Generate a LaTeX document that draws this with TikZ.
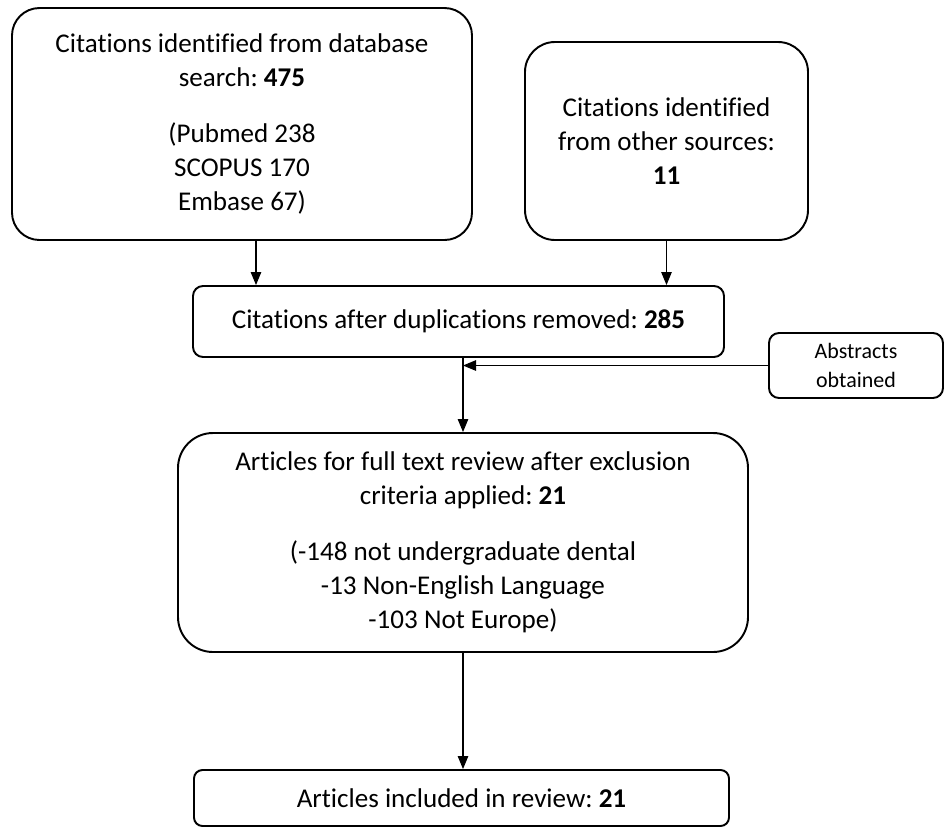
\documentclass[tikz,border=0pt]{standalone}
\usepackage{fontspec}
\setmainfont{Carlito}[Ligatures=NoCommon]
\usetikzlibrary{arrows.meta}
\frenchspacing

\begin{document}
\begin{tikzpicture}
\tikzset{%
  >={Triangle[length=2.6mm,width=2.1mm]}, % option for nice arrows
  box/.style={draw,line width=1.1pt,align=center,inner sep=0pt,
    font=\fontsize{15.4}{19.5}\selectfont},%
  small box/.style={box,font=\fontsize{12.5}{16}\selectfont},%
  link/.style={->,line width=0.6pt}%
}
%% some definitions

\def\gap{12pt} % space before the list of numbers

%% page size

\useasboundingbox (0,0) rectangle (18.9,-16.56);

%% boxes

\node[box,rounded corners=0.55cm,minimum width=9.2cm,minimum height=4.64cm]
  (DB) at (4.84,-2.48) {Citations identified from database\\
  search: \textbf{475}\\[\gap] (Pubmed 238\\ SCOPUS 170\\ Embase 67)};
\node[box,rounded corners=0.6cm,minimum width=5.66cm,minimum height=3.96cm]
  (Other) at (13.33,-2.82) {Citations identified\\ from other sources:\\
  \textbf{11}};
\node[box,rounded corners=0.2cm,minimum width=10.62cm,minimum height=1.42cm]
  (Dedup) at (9.17,-6.43) {Citations after duplications removed: \textbf{285}};
\node[small box,rounded corners=0.2cm,minimum width=3.48cm,minimum height=1.3cm]
  (Abs) at (17.12,-7.31) {Abstracts\\ obtained};
\node[box,rounded corners=0.7cm,minimum width=11.4cm,minimum height=4.38cm]
  (Full) at (9.26,-10.85) {Articles for full text review after exclusion\\
  criteria applied: \textbf{21}\\[\gap] (-148 not undergraduate dental\\
  -13 Non-English Language\\ -103 Not Europe)};
\node[box,rounded corners=0.17cm,minimum width=10.7cm,minimum height=1.12cm]
  (Incl) at (9.23,-15.96) {Articles included in review: \textbf{21}};

%% arrows

\coordinate (DBout) at ([xshift=0.28cm]DB.south);
\draw[link] (DBout) -- (DBout |- Dedup.north);
\draw[link] (Other.south) -- (Other.south |- Dedup.north);
\draw[link] (Full.north |- Dedup.south) -- (Full.north);
\draw[link] (Abs.west) -- (Abs.west -| Full.north);
\draw[link] (Full.south) -- (Full.south |- Incl.north);
\end{tikzpicture}
\end{document}
